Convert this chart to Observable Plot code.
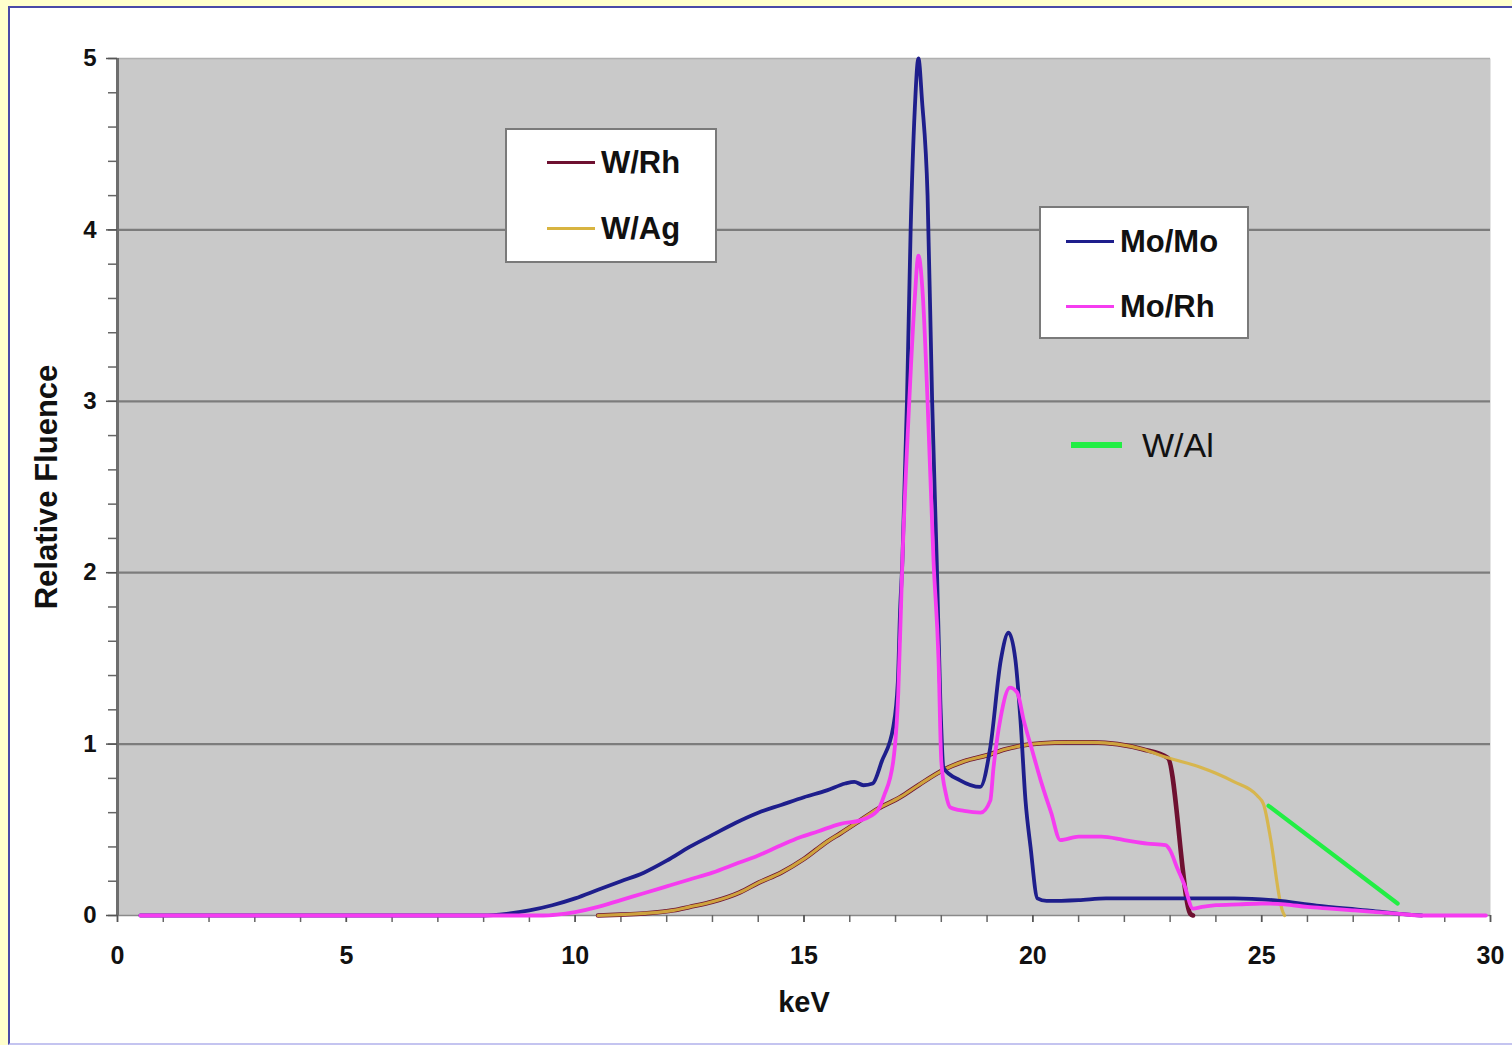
<!DOCTYPE html>
<html>
<head>
<meta charset="utf-8">
<script src="https://cdn.jsdelivr.net/npm/d3@7"></script>
<script src="https://cdn.jsdelivr.net/npm/@observablehq/plot@0.6"></script>
<style>
  html, body { margin: 0; padding: 0; }
  body { width: 1512px; height: 1045px; background: #ffffcc; position: relative; overflow: hidden; font-family: "Liberation Sans", Arial, sans-serif; }
  #frame { position: absolute; left: 8px; top: 6px; width: 1510px; height: 1035px; background: #ffffff; border-left: 2px solid #4a4aa8; border-top: 2px solid #4a4aa8; border-bottom: 2px solid #c4c4f0; }
  #chart { position: absolute; left: 0; top: 0; }
  .legbox { position: absolute; background: #fff; border: 2px solid #7a7a7a; box-sizing: border-box; }
  .entry { position: absolute; display: flex; align-items: center; }
  .sw { display: inline-block; height: 3px; width: 48px; margin-right: 6px; }
  .lab { font-weight: bold; font-size: 31px; color: #111; line-height: 1; }
</style>
</head>
<body>
<div id="frame"></div>
<div id="chart"></div>
<div id="legends"></div>
<script>
// ---- data (keV, relative fluence) ----
const moMoKeV = [0.5, 8.0, 8.5, 9.0, 9.5, 10.0, 10.5, 11.0, 11.5, 12.0, 12.5, 13.0, 13.5, 14.0, 14.5, 15.0, 15.5, 15.9, 16.1, 16.3, 16.5, 16.7, 16.95, 17.05, 17.1, 17.15, 17.25, 17.33, 17.42, 17.5, 17.58, 17.7, 17.8, 17.9, 17.98, 18.05, 18.4, 18.85, 19.07, 19.3, 19.47, 19.62, 19.73, 19.84, 19.95, 20.1, 20.3, 21.0, 21.6, 22.5, 23.5, 24.4, 25.3, 26.2, 27.3, 28.0, 28.5];
const moMoVal = [0, 0, 0.01, 0.03, 0.06, 0.1, 0.15, 0.2, 0.25, 0.32, 0.4, 0.47, 0.54, 0.6, 0.645, 0.69, 0.73, 0.77, 0.78, 0.76, 0.77, 0.9, 1.1, 1.36, 1.78, 2.07, 3.0, 4.0, 4.7, 5.0, 4.75, 4.2, 3.0, 2.07, 1.24, 0.86, 0.79, 0.75, 0.98, 1.49, 1.65, 1.49, 1.14, 0.67, 0.4, 0.1, 0.085, 0.09, 0.1, 0.1, 0.1, 0.1, 0.088, 0.058, 0.03, 0.01, 0];

const moRhKeV = [0.5, 9.3, 9.6, 10.0, 10.5, 11.0, 11.5, 12.0, 12.5, 13.0, 13.5, 14.0, 14.5, 14.9, 15.3, 15.8, 16.23, 16.6, 16.75, 16.95, 17.06, 17.15, 17.3, 17.42, 17.5, 17.6, 17.7, 17.83, 17.94, 18.0, 18.1, 18.2, 18.5, 18.86, 19.07, 19.14, 19.3, 19.5, 19.66, 19.8, 20.0, 20.17, 20.4, 20.6, 21.0, 21.5, 22.0, 22.5, 22.9, 23.0, 23.15, 23.3, 23.5, 23.7, 24.0, 24.5, 25.0, 25.5, 26.0, 26.5, 27.0, 27.5, 28.0, 28.5, 29.9];
const moRhVal = [0, 0, 0.005, 0.02, 0.05, 0.09, 0.13, 0.17, 0.21, 0.25, 0.3, 0.35, 0.41, 0.455, 0.49, 0.535, 0.555, 0.61, 0.7, 0.9, 1.3, 2.07, 3.0, 3.6, 3.85, 3.6, 3.0, 2.07, 1.49, 0.9, 0.71, 0.63, 0.61, 0.6, 0.67, 0.86, 1.16, 1.33, 1.3, 1.14, 0.95, 0.79, 0.6, 0.44, 0.46, 0.46, 0.44, 0.42, 0.41, 0.38, 0.28, 0.187, 0.04, 0.05, 0.06, 0.065, 0.07, 0.065, 0.05, 0.04, 0.03, 0.02, 0.01, 0, 0];

const wRhKeV = [10.5, 11.0, 11.5, 12.15, 12.5, 13.0, 13.6, 14.0, 14.5, 15.0, 15.5, 15.8, 16.23, 16.6, 17.1, 17.5, 18.05, 18.5, 19.0, 19.4, 19.73, 20.2, 20.76, 21.3, 21.85, 22.4, 22.95, 23.44, 23.5];
const wRhVal = [0, 0.005, 0.012, 0.03, 0.05, 0.08, 0.135, 0.19, 0.25, 0.33, 0.43, 0.48, 0.555, 0.62, 0.69, 0.76, 0.85, 0.9, 0.935, 0.97, 0.99, 1.005, 1.01, 1.01, 1.0, 0.97, 0.92, 0.01, 0];

const wAgKeV = [10.5, 11.0, 11.5, 12.15, 12.5, 13.0, 13.6, 14.0, 14.5, 15.0, 15.5, 15.8, 16.23, 16.6, 17.1, 17.5, 18.05, 18.5, 19.0, 19.4, 19.73, 20.2, 20.76, 21.3, 21.85, 22.4, 22.95, 23.66, 24.0, 24.4, 24.9, 25.04, 25.2, 25.4, 25.45, 25.5];
const wAgVal = [0, 0.005, 0.012, 0.03, 0.05, 0.08, 0.135, 0.19, 0.25, 0.33, 0.43, 0.48, 0.555, 0.62, 0.69, 0.76, 0.85, 0.9, 0.935, 0.97, 0.99, 1.005, 1.01, 1.01, 1.0, 0.97, 0.92, 0.865, 0.83, 0.78, 0.70, 0.65, 0.44, 0.088, 0.03, 0];

const wAlKeV = [25.15, 27.97];
const wAlVal = [0.64, 0.07];

const yTicks = [0, 1, 2, 3, 4, 5];
const xTicks = [0, 5, 10, 15, 20, 25, 30];

const colors = { "Mo/Mo": "#1e1e8c", "Mo/Rh": "#f53cf0", "W/Rh": "#6e1030", "W/Ag": "#d8b440", "W/Al": "#22ee44" };

const toRows = (ks, vs) => ks.map((k, i) => ({ keV: k, val: vs[i] }));

const lineOpts = (name) => ({ x: "keV", y: "val", stroke: colors[name], strokeWidth: 3.8, curve: "monotone-x", strokeLinejoin: "round" });

const chart = Plot.plot({
  width: 1512,
  height: 1045,
  marginLeft: 117,
  marginRight: 22,
  marginTop: 58,
  marginBottom: 130,
  style: { background: "transparent", fontFamily: "'Liberation Sans', Arial, sans-serif", overflow: "visible" },
  x: { domain: [0, 30] },
  y: { domain: [0, 5] },
  marks: [
    Plot.frame({ fill: "#c9c9c9", stroke: null }),
    Plot.ruleY([1, 2, 3, 4], { stroke: "#7c7c7c", strokeWidth: 2.2 }),
    Plot.ruleY([5], { stroke: "#b0b0b0", strokeWidth: 1.5 }),
    Plot.ruleY([0], { stroke: "#8a8a8a", strokeWidth: 1.5 }),
    Plot.ruleX([0], { stroke: "#6e6e6e", strokeWidth: 3 }),
    Plot.axisY({ ticks: d3.range(0, 5.001, 0.2), tickSize: 9, tickFormat: () => "", label: null, stroke: "#666", strokeWidth: 1.5 }),
    Plot.axisY({ ticks: yTicks, tickSize: 11, tickPadding: 10, tickFormat: d => String(d), label: null, stroke: "#555", strokeWidth: 1.5, fill: "#111", fontSize: 24, fontWeight: "bold" }),
    Plot.axisX({ ticks: d3.range(0, 30.001, 1), tickSize: 7, tickFormat: () => "", label: null, stroke: "#666", strokeWidth: 1.5 }),
    Plot.axisX({ ticks: xTicks, tickSize: 7, tickPadding: 24, tickFormat: d => String(d), label: null, stroke: "#555", strokeWidth: 1.5, fill: "#111", fontSize: 25, fontWeight: "bold" }),
    Plot.text(["keV"], { frameAnchor: "bottom", textAnchor: "middle", dy: 96, text: d => d, fontSize: 29, fontWeight: "bold", fill: "#111" }),
    Plot.text(["Relative Fluence"], { frameAnchor: "left", textAnchor: "middle", dx: -70, rotate: -90, text: d => d, fontSize: 31, fontWeight: "bold", fill: "#111" }),
    Plot.line(toRows(wRhKeV, wRhVal), { ...lineOpts("W/Rh"), strokeWidth: 4.6 }),
    Plot.line(toRows(wAgKeV, wAgVal), { ...lineOpts("W/Ag"), strokeWidth: 3.2, strokeOpacity: 0.9 }),
    Plot.line(toRows(moMoKeV, moMoVal), lineOpts("Mo/Mo")),
    Plot.line(toRows(moRhKeV, moRhVal), lineOpts("Mo/Rh")),
    Plot.line(toRows(wAlKeV, wAlVal), { ...lineOpts("W/Al"), strokeWidth: 4.2 })
  ]
});
document.getElementById("chart").appendChild(chart);

// ---- legends (HTML overlays) ----
const leg = document.getElementById("legends");
function box(left, top, w, h) {
  const b = document.createElement("div");
  b.className = "legbox";
  Object.assign(b.style, { left: left + "px", top: top + "px", width: w + "px", height: h + "px" });
  leg.appendChild(b);
}
function entry(name, left, cy, opts = {}) {
  const e = document.createElement("div");
  e.className = "entry";
  e.style.left = left + "px";
  e.style.top = (cy - 20) + "px";
  e.style.height = "40px";
  const sw = document.createElement("span");
  sw.className = "sw";
  sw.style.background = colors[name];
  if (opts.swH) sw.style.height = opts.swH + "px";
  if (opts.gap) sw.style.marginRight = opts.gap + "px";
  if (opts.swW) sw.style.width = opts.swW + "px";
  const t = document.createElement("span");
  t.className = "lab";
  t.textContent = name;
  if (opts.fontSize) t.style.fontSize = opts.fontSize + "px";
  if (opts.weight) t.style.fontWeight = opts.weight;
  e.appendChild(sw); e.appendChild(t);
  leg.appendChild(e);
}
box(505, 128, 212, 135);
entry("W/Rh", 547, 162);
entry("W/Ag", 547, 228);
box(1039, 206, 210, 133);
entry("Mo/Mo", 1066, 241, { fontSize: 31 });
entry("Mo/Rh", 1066, 306, { fontSize: 31 });
entry("W/Al", 1071, 445, { swH: 6, swW: 51, gap: 20, fontSize: 34, weight: "normal" });
</script>
</body>
</html>
